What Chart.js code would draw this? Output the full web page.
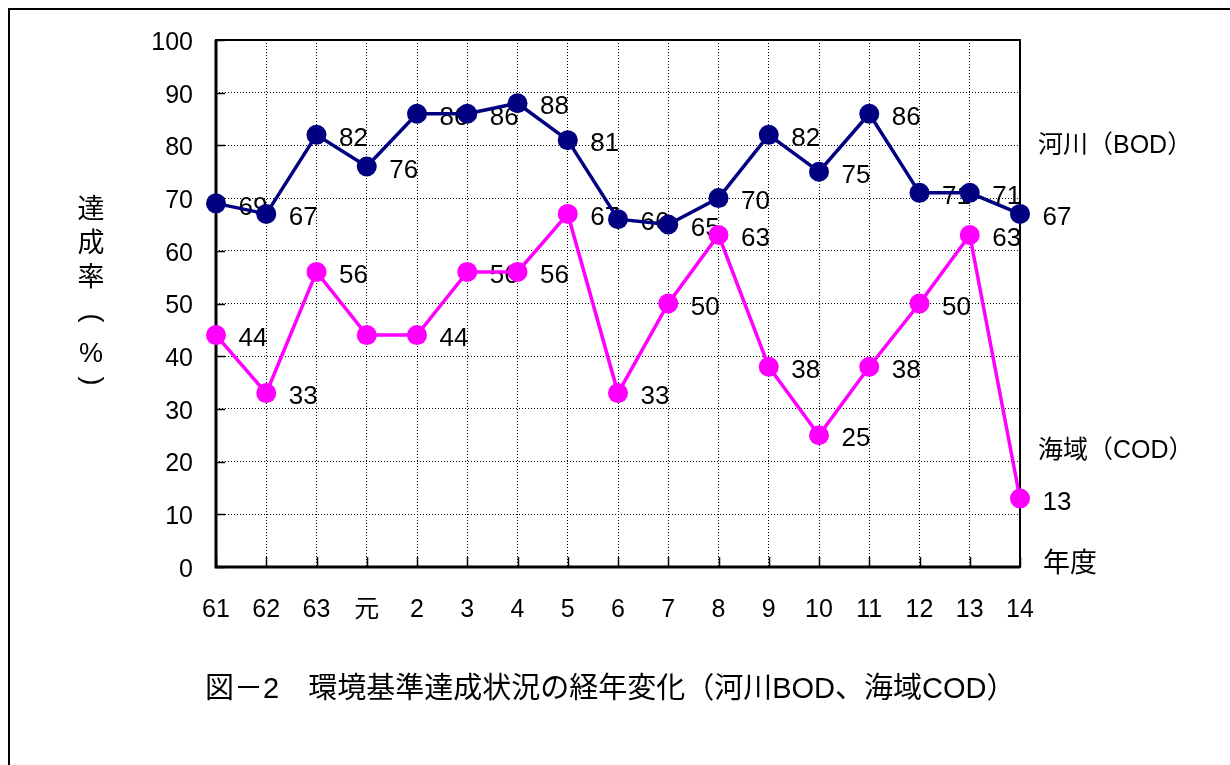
<!DOCTYPE html>
<html>
<head>
<meta charset="utf-8">
<script src="https://cdn.jsdelivr.net/npm/chart.js@4/dist/chart.umd.min.js"></script>
<style>
  html, body { margin: 0; padding: 0; background: #fff; }
  #wrap { position: relative; width: 1230px; height: 765px; }
</style>
</head>
<body>
<div id="wrap"><canvas id="chart" width="1230" height="765"></canvas></div>
<script>
// 年度（昭和61〜平成14）
const years = ['61', '62', '63', '元', '2', '3', '4', '5', '6', '7', '8', '9', '10', '11', '12', '13', '14'];
// 達成率（%）
const riverBOD = [69, 67, 82, 76, 86, 86, 88, 81, 66, 65, 70, 82, 75, 86, 71, 71, 67];
const seaCOD = [44, 33, 56, 44, 44, 56, 56, 67, 33, 50, 63, 38, 25, 38, 50, 63, 13];
// 数値が表示されていない点
const codNoLabel = [3];

const yTicks = [0, 10, 20, 30, 40, 50, 60, 70, 80, 90, 100];

const FONT = "'Liberation Sans', 'Noto Sans CJK JP', sans-serif";

const decor = {
  id: 'decor',
  beforeDatasetsDraw(chart) {
    const { ctx, chartArea: a, scales: { x, y } } = chart;
    ctx.save();
    ctx.strokeStyle = '#000';

    // 内向きの目盛り
    ctx.lineWidth = 1.5;
    ctx.beginPath();
    years.forEach((_, i) => {
      const px = Math.round(x.getPixelForValue(i)) + 0.5;
      ctx.moveTo(px, a.bottom);
      ctx.lineTo(px, a.bottom - 10);
    });
    yTicks.forEach(v => {
      const py = Math.round(y.getPixelForValue(v)) + 0.5;
      ctx.moveTo(a.left, py);
      ctx.lineTo(a.left + 9, py);
    });
    ctx.stroke();

    // プロット枠
    ctx.lineWidth = 2;
    ctx.strokeRect(a.left, a.top, a.right - a.left, a.bottom - a.top);
    ctx.lineWidth = 3;
    ctx.beginPath();
    ctx.moveTo(a.left, a.top);
    ctx.lineTo(a.left, a.bottom);
    ctx.lineTo(a.right, a.bottom);
    ctx.stroke();

    // データラベル（マーカーの下に描く）
    ctx.font = '26px ' + FONT;
    ctx.fillStyle = '#000';
    ctx.textAlign = 'center';
    ctx.textBaseline = 'middle';
    chart.data.datasets.forEach((ds, di) => {
      const meta = chart.getDatasetMeta(di);
      meta.data.forEach((pt, i) => {
        if ((ds.noLabel || []).includes(i)) return;
        ctx.fillText(String(ds.data[i]), pt.x + 37, pt.y + 4);
      });
    });
    ctx.restore();
  },
  afterDraw(chart) {
    const { ctx } = chart;
    ctx.save();
    ctx.fillStyle = '#000';
    ctx.textBaseline = 'middle';

    // 系列名
    ctx.textAlign = 'left';
    ctx.font = '25px ' + FONT;
    ctx.fillText('河川（BOD）', 1038, 146);
    ctx.fillText('海域（COD）', 1038, 451);
    ctx.font = '27px ' + FONT;
    ctx.fillText('年度', 1043, 565);

    // 縦書きの軸タイトル
    ctx.textAlign = 'center';
    ctx.font = '27px ' + FONT;
    ctx.fillText('達', 91, 211);
    ctx.fillText('成', 91, 245);
    ctx.fillText('率', 91, 279);
    ctx.fillText('%', 91, 355);
    ctx.font = '27px ' + FONT;
    [['(', 318], [')', 381]].forEach(([ch, yy]) => {
      ctx.save();
      ctx.translate(91, yy);
      ctx.rotate(Math.PI / 2);
      ctx.fillText(ch, 0, 0);
      ctx.restore();
    });

    // 図タイトル
    ctx.textAlign = 'left';
    ctx.font = '29px ' + FONT;
    ctx.fillText('図－2　環境基準達成状況の経年変化（河川BOD、海域COD）', 205, 690);

    // 外枠（上と左のみ見える）
    ctx.strokeStyle = '#000';
    ctx.lineWidth = 2;
    ctx.beginPath();
    ctx.moveTo(9, 765);
    ctx.lineTo(9, 9);
    ctx.lineTo(1230, 9);
    ctx.stroke();
    ctx.restore();
  }
};

new Chart(document.getElementById('chart'), {
  type: 'line',
  data: {
    labels: years,
    datasets: [
      {
        label: '河川（BOD）',
        data: riverBOD,
        borderColor: '#000080',
        backgroundColor: '#000080',
        borderWidth: 3.5,
        pointRadius: 10,
        pointHoverRadius: 10,
        pointBorderWidth: 0,
        tension: 0,
        clip: false
      },
      {
        label: '海域（COD）',
        data: seaCOD,
        noLabel: codNoLabel,
        borderColor: '#FF00FF',
        backgroundColor: '#FF00FF',
        borderWidth: 3.5,
        pointRadius: 10,
        pointHoverRadius: 10,
        pointBorderWidth: 0,
        tension: 0,
        clip: false
      }
    ]
  },
  options: {
    responsive: false,
    animation: false,
    events: [],
    layout: { padding: { left: 0, top: 40, right: 210, bottom: 0 } },
    plugins: { legend: { display: false }, tooltip: { enabled: false } },
    scales: {
      x: {
        offset: false,
        afterFit: s => { s.height = 198; },
        grid: { color: '#000', lineWidth: 1, drawTicks: false },
        border: { display: false, dash: [1, 2] },
        ticks: {
          color: '#000',
          font: { family: FONT, size: 25 },
          padding: 28,
          autoSkip: false,
          maxRotation: 0
        }
      },
      y: {
        min: 0,
        max: 100,
        afterFit: s => { s.width = 216; },
        afterBuildTicks: s => { s.ticks = yTicks.map(v => ({ value: v })); },
        grid: { color: '#000', lineWidth: 1, drawTicks: false },
        border: { display: false, dash: [1, 2] },
        ticks: {
          color: '#000',
          font: { family: FONT, size: 25 },
          padding: 23,
          labelOffset: 3
        }
      }
    }
  },
  plugins: [decor]
});
</script>
</body>
</html>
